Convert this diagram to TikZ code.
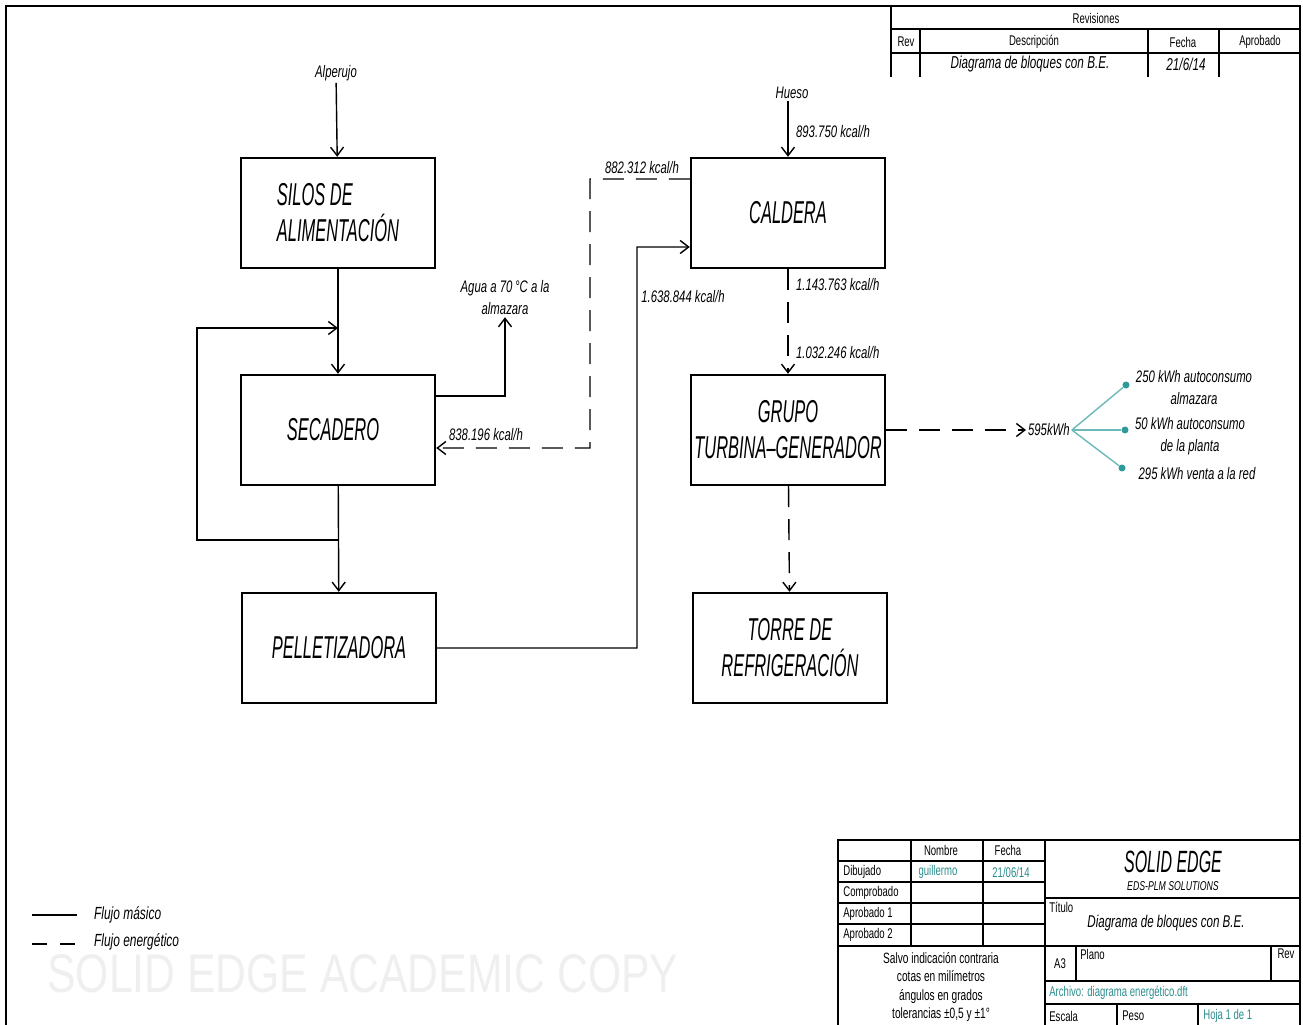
\documentclass[tikz,border=0pt]{standalone}
\usepackage{graphicx}
\usepackage{fontspec}
\setmainfont{Liberation Sans}[FakeStretch=0.68]
\newfontfamily\bloquefam{Liberation Sans}[FakeStretch=0.52]
\newfontfamily\marcafam{Liberation Sans}
\usetikzlibrary{arrows.meta,positioning}
\definecolor{verde-azul}{HTML}{2E9A9A}
\definecolor{texto-azul}{HTML}{2A8C8C}
\definecolor{marca-gris}{HTML}{EFEFEF}
\newcommand\fbloque{\bloquefam\itshape\fontsize{18pt}{20.4pt}\selectfont}
\newcommand\fetiq{\itshape\fontsize{9.5pt}{12.5pt}\selectfont}
\newcommand\ftabla{\fontsize{8pt}{9pt}\selectfont}

\begin{document}
\begin{tikzpicture}[x=0.2mm, y=-0.2mm,
      >={Straight Barb[length=1.7mm,width=2.6mm]},
      bloque/.style={draw, line width=1.4pt, minimum width=38.8mm,
        minimum height=22mm, inner sep=0pt, align=center, font=\fbloque},
      etiq/.style={font=\fetiq, inner sep=1pt, align=center},
      masico/.style={->, line width=0.8pt},
      energetico/.style={->, line width=0.8pt, dash pattern=on 4.2mm off 2.4mm},
      celda/.style={font=\ftabla, inner sep=0pt},
      borde/.style={line width=1.5pt},
      fino/.style={line width=0.8pt},
      punto/.style={circle, fill=verde-azul, minimum size=1.4mm, inner sep=0pt},
      rama/.style={verde-azul!70, line width=0.8pt}]
    \useasboundingbox (0,0) rectangle (1303,1025);
    % marco de la hoja
    \draw[borde] (6,1025) -- (6,6) -- (1300,6) -- (1300,1025);

    % bloques
    \node[bloque, align=left] (silos) at (338,213) {SILOS DE\\ALIMENTACIÓN};
    \node[bloque] (secadero) at (338,430) {\hspace*{-2mm}SECADERO};
    \node[bloque] (pellet) at (339,648) {PELLETIZADORA};
    \node[bloque] (caldera) at (788,213) {CALDERA};
    \node[bloque] (turbina) at (788,430) {GRUPO\\TURBINA–GENERADOR};
    \node[bloque] (torre) at (790,648) {TORRE DE\\REFRIGERACIÓN};

    % etiquetas
    \node[etiq] (alperujo) at (336,73) {Alperujo};
    \node[etiq] (agua) at (505,298) {Agua a 70\,°C a la\\almazara};
    \node[etiq] (kcalA) at (642,168) {882.312 kcal/h};
    \node[etiq] (kcalB) at (486,435) {838.196 kcal/h};
    \node[etiq] (kcalC) at (683,297) {1.638.844 kcal/h};
    \node[etiq] (hueso) at (792,93) {Hueso};
    \node[etiq, anchor=west] (kcalD) at (794,132) {893.750 kcal/h};
    \node[etiq, anchor=west] (kcalE) at (794,285) {1.143.763 kcal/h};
    \node[etiq, anchor=west] (kcalF) at (794,353) {1.032.246 kcal/h};
    \node[etiq, anchor=west] (kwh) at (1026,430) {595kWh};

    % flujo masico
    \draw[masico] (alperujo) -- (silos);
    \draw[masico] (silos) -- (secadero);
    \draw[masico] (secadero) -- (pellet);
    \coordinate (bifurca) at (338,540);
    \coordinate (esqA) at (197,540);
    \coordinate (esqB) at (197,328);
    \coordinate (retorno) at (338,328);
    \draw[masico] (bifurca) -- (esqA) -- (esqB) -- (retorno);
    \draw[masico] ([yshift=6.8mm]secadero.east) -| (agua.south);
    \coordinate (codoA) at (637,247);
    \draw[masico] (pellet.east) -| (codoA) -- ([yshift=-6.8mm]caldera.west);
    \draw[masico] (hueso.south -| caldera.north) -- (caldera.north);

    % flujo energetico
    \coordinate (codoB) at (590,179);
    \coordinate (codoC) at (590,448);
    \draw[energetico] ([yshift=6.8mm]caldera.west) -- (codoB) -- (codoC)
      -- ([yshift=-3.6mm]secadero.east);
    \draw[energetico] (caldera) -- (turbina);
    \draw[energetico] (turbina) -- (torre);
    \draw[energetico] (turbina.east) -- (kwh.west);

    % reparto de la energia electrica
    \node[punto] (p1) at (1126,385) {};
    \node[punto] (p2) at (1125,430) {};
    \node[punto] (p3) at (1122,468) {};
    \foreach \p in {p1,p2,p3}
      \draw[rama] (kwh.east) -- (\p);
    \node[etiq] (reparto1) at (1194,388) {250 kWh autoconsumo\\almazara};
    \node[etiq] (reparto2) at (1190,436) {50 kWh autoconsumo\\de la planta};
    \node[etiq] (reparto3) at (1197,474) {295 kWh venta a la red};

    % leyenda
    \coordinate (leyA) at (32,915);
    \coordinate (leyB) at (32,944);
    \draw[line width=0.9pt] (leyA) -- ++(45,0);
    \draw[line width=0.9pt, dash pattern=on 3mm off 2.6mm] (leyB) -- ++(45,0);
    \node[etiq, anchor=west, font=\itshape\fontsize{10pt}{12pt}\selectfont] (leyM) at (92,915) {Flujo másico};
    \node[etiq, anchor=west, font=\itshape\fontsize{10pt}{12pt}\selectfont] (leyE) at (92,942) {Flujo energético};
    \node[anchor=west, inner sep=0pt, text=marca-gris] (marca) at (47,974)
      {\resizebox{126.2mm}{7.6mm}{\marcafam SOLID EDGE ACADEMIC COPY}};

    % tabla de revisiones
    \draw[borde] (891,77) -- (891,6);
    \draw[borde] (891,29) -- (1300,29);
    \draw[borde] (891,53) -- (1300,53);
    \foreach \x in {920,1148,1219}
      \draw[fino] (\x,29) -- (\x,77);
    \node[celda] (revT) at (1096,18) {Revisiones};
    \node[celda] (revR) at (906,42) {Rev};
    \node[celda] (revD) at (1034,42) {Descripción};
    \node[celda] (revF) at (1183,42) {Fecha};
    \node[celda] (revA) at (1260,42) {Aprobado};
    \node[celda, font=\itshape\fontsize{9.8pt}{11pt}\selectfont] (revDx) at (1030,64) {Diagrama de bloques con B.E.};
    \node[celda, font=\itshape\fontsize{9.8pt}{11pt}\selectfont] (revFx) at (1186,64) {21/6/14};

    % cajetin
    \draw[borde] (838,1025) -- (838,840) -- (1300,840);
    \draw[borde] (1045,840) -- (1045,1025);
    \foreach \y in {861,882,903,924,946}
      \draw[borde] (838,\y) -- (1045,\y);
    \foreach \x in {911,983}
      \draw[fino] (\x,840) -- (\x,946);
    \foreach \y in {898,946,981,1004}
      \draw[borde] (1045,\y) -- (1300,\y);
    \draw[fino] (1076,946) -- (1076,981);
    \draw[fino] (1271,946) -- (1271,981);
    \draw[fino] (1117,1004) -- (1117,1025);
    \draw[fino] (1198,1004) -- (1198,1025);
    \node[celda] (cNom) at (941,850) {Nombre};
    \node[celda] (cFec) at (1008,850) {Fecha};
    \node[celda, anchor=west] (cDib) at (843,872) {Dibujado};
    \node[celda, text=texto-azul] (cGui) at (938,872) {guillermo};
    \node[celda, text=texto-azul] (cDia) at (1011,872) {21/06/14};
    \node[celda, anchor=west] (cCom) at (843,893) {Comprobado};
    \node[celda, anchor=west] (cAp1) at (843,914) {Aprobado 1};
    \node[celda, anchor=west] (cAp2) at (843,935) {Aprobado 2};
    \node[celda, align=center, font=\fontsize{8.5pt}{10.4pt}\selectfont] (cSalvo) at (941,987)
      {Salvo indicación contraria\\cotas en milímetros\\ángulos en grados\\tolerancias ±0,5 y ±1°};
    \node[celda, font=\bloquefam\itshape\fontsize{17.5pt}{18pt}\selectfont] (cSE) at (1173,862) {SOLID EDGE};
    \node[celda, font=\itshape\fontsize{7.3pt}{8pt}\selectfont] (cEDS) at (1173,886) {EDS-PLM SOLUTIONS};
    \node[celda, anchor=west] (cTit) at (1049,907) {Título};
    \node[celda, font=\itshape\fontsize{9.7pt}{11pt}\selectfont] (cTitx) at (1166,923) {Diagrama de bloques con B.E.};
    \node[celda] (cA3) at (1060,964) {A3};
    \node[celda, anchor=west] (cPla) at (1080,954) {Plano};
    \node[celda] (cRev) at (1286,954) {Rev};
    \node[celda, anchor=west, text=texto-azul] (cArc) at (1049,993) {Archivo: diagrama energético.dft};
    \node[celda, anchor=west] (cEsc) at (1049,1016) {Escala};
    \node[celda, anchor=west] (cPes) at (1122,1016) {Peso};
    \node[celda, anchor=west, text=texto-azul] (cHoj) at (1203,1016) {Hoja 1 de 1};
\end{tikzpicture}
\end{document}
